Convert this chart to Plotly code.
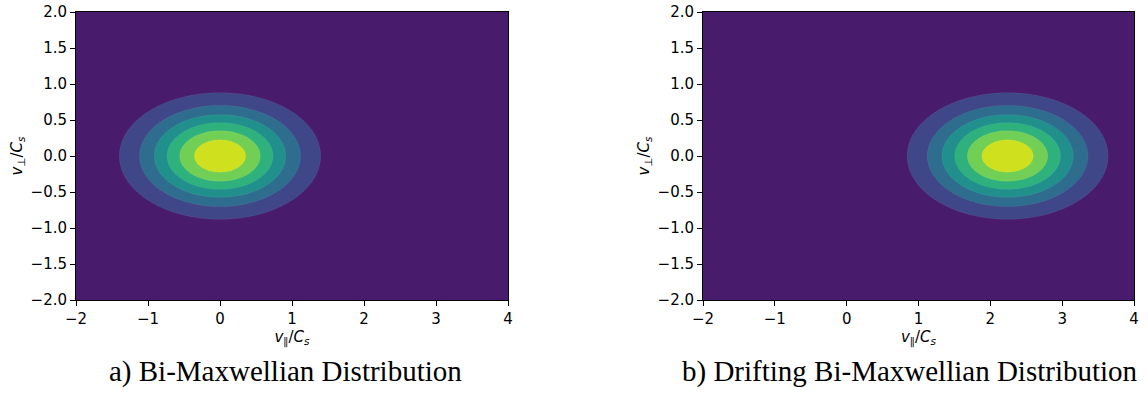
import numpy as np
import plotly.graph_objects as go

# ---- data ----
panel_names = ["a) Bi-Maxwellian Distribution", "b) Drifting Bi-Maxwellian Distribution"]
drift_velocity = [0.0, 2.24]          # centre of the distribution along v_par / C_s
peak_value = [0.34, 0.34]             # estimated peak of f
par_width = [1.01, 1.01]              # e-folding width along v_par / C_s
perp_width = [0.635, 0.635]           # e-folding width along v_perp / C_s
contour_levels = [0.05, 0.10, 0.15, 0.20, 0.25, 0.30]
x_ticks = [-2, -1, 0, 1, 2, 3, 4]
y_ticks = [-2.0, -1.5, -1.0, -0.5, 0.0, 0.5, 1.0, 1.5, 2.0]

# band colours (matplotlib contourf viridis at band midpoints)
band_colors = ["#481b6c", "#3f4788", "#2e6d8e", "#21908d", "#2eb17d", "#72cf56", "#cfe11e"]

v_par = np.linspace(-2, 4, 361)
v_perp = np.linspace(-2, 2, 241)
VP, VQ = np.meshgrid(v_par, v_perp)

# stepped colour scale: each band gets exactly one colour
n = len(band_colors)
step = 1 / (n - 1)
colorscale = []
for k, c in enumerate(band_colors):
    lo = max(0.0, (k - 0.5) * step)
    hi = min(1.0, (k + 0.5) * step)
    colorscale.append([lo, c])
    colorscale.append([hi, c])

W, H = 1148, 394


def px_x(p):
    return p / W


def px_y(p):
    return 1 - p / H


fig = go.Figure()
x_domains = [[px_x(76), px_x(508)], [px_x(703), px_x(1134)]]
y_domain = [px_y(300), px_y(12)]
font_ticks = dict(family="DejaVu Sans", size=15, color="black")

for i in range(2):
    f = peak_value[i] * np.exp(-((VP - drift_velocity[i]) / par_width[i]) ** 2
                               - (VQ / perp_width[i]) ** 2)
    sfx = "" if i == 0 else "2"
    fig.add_trace(go.Contour(
        x=v_par, y=v_perp, z=f,
        xaxis="x" + sfx, yaxis="y" + sfx,
        contours=dict(start=contour_levels[0], end=contour_levels[-1],
                      size=contour_levels[1] - contour_levels[0], coloring="fill"),
        colorscale=colorscale, showscale=False,
        line=dict(color="rgba(255,255,255,0.12)", width=0.5),
        hoverinfo="skip",
    ))
    axis_common = dict(showline=True, linecolor="black", linewidth=1, mirror=True,
                       ticks="outside", ticklen=5, tickwidth=1, tickcolor="black",
                       showgrid=False, zeroline=False, tickfont=font_ticks,
                       automargin=False, ticklabeloverflow="allow")
    fig.layout["xaxis" + sfx] = dict(
        domain=x_domains[i], range=[-2, 4], tickvals=x_ticks,
        anchor="y" + sfx,
        title=dict(text="<i>v</i><sub>∥</sub>/<i>C</i><sub><i>s</i></sub>",
                   font=dict(family="DejaVu Sans", size=15, color="black"), standoff=2),
        **axis_common)
    fig.layout["yaxis" + sfx] = dict(
        domain=y_domain, range=[-2, 2], tickvals=y_ticks, tickformat=".1f",
        anchor="x" + sfx,
        title=dict(text="<i>v</i><sub>⊥</sub>/<i>C</i><sub><i>s</i></sub>",
                   font=dict(family="DejaVu Sans", size=15, color="black"), standoff=4),
        **axis_common)

caption_x = [px_x(285), px_x(910)]
for i in range(2):
    fig.add_annotation(text=panel_names[i], xref="paper", yref="paper",
                       x=caption_x[i], y=px_y(371), xanchor="center", yanchor="middle",
                       showarrow=False,
                       font=dict(family="Liberation Serif", size=29, color="black"))

fig.update_layout(width=W, height=H, margin=dict(l=0, r=0, t=0, b=0),
                  paper_bgcolor="white", plot_bgcolor="white", showlegend=False)
fig.write_html("out.html", config={"displayModeBar": False},
               post_script="document.body.style.margin='0';document.body.style.overflow='hidden';")
